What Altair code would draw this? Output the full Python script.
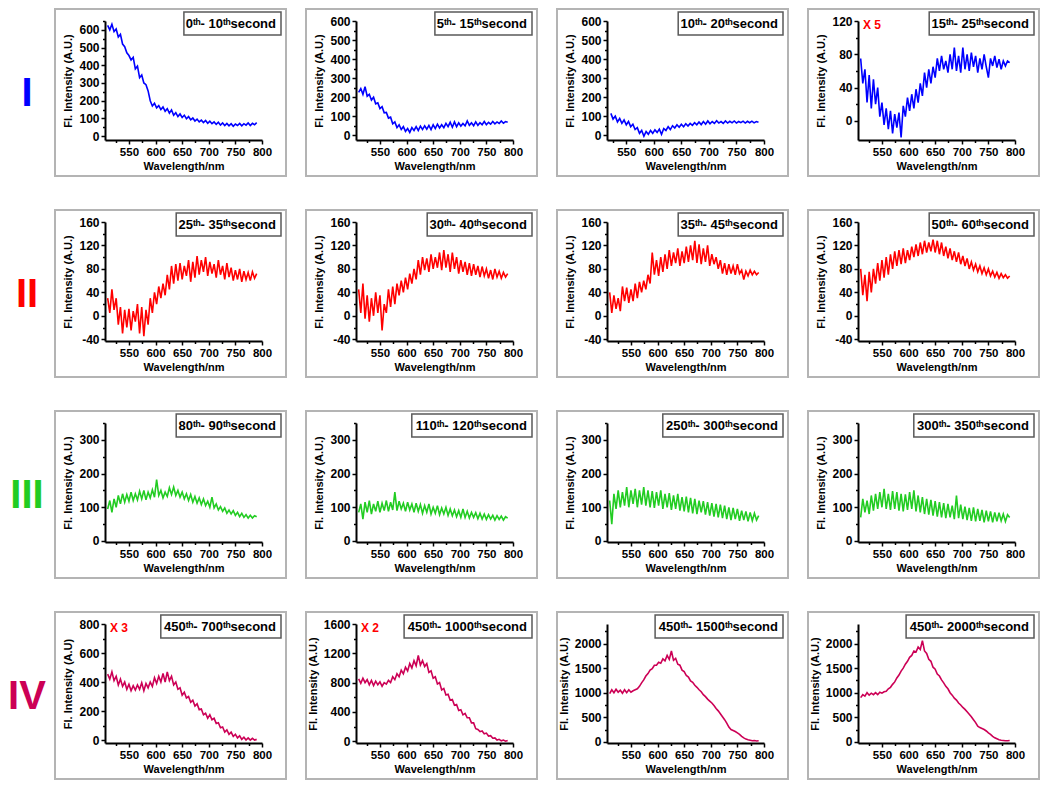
import altair as alt
import pandas as pd

# ---------------- data ----------------
wavelengths = list(range(510, 791, 4))  # 510 ... 790 nm

# Row I (blue)
s_0_10 = [625, 600, 632, 590, 605, 560, 575, 520, 505, 470,
          455, 430, 445, 380, 395, 330, 345, 300, 290, 255,
          200, 170, 185, 160, 172, 150, 165, 140, 155, 130,
          148, 118, 132, 110, 125, 105, 118, 98, 110, 92,
          102, 85, 96, 80, 90, 76, 88, 72, 84, 70,
          80, 66, 78, 62, 74, 60, 72, 58, 70, 55,
          68, 60, 72, 58, 70, 62, 74, 60, 72, 64,
          76]
s_5_15 = [225, 245, 215, 255, 205, 215, 185, 200, 165, 170,
          140, 150, 118, 120, 90, 95, 60, 70, 40, 55,
          30, 45, 20, 35, 15, 40, 25, 45, 25, 48,
          30, 50, 32, 52, 30, 55, 35, 58, 38, 55,
          40, 62, 45, 68, 42, 70, 45, 65, 48, 62,
          50, 75, 52, 65, 50, 70, 52, 66, 55, 72,
          55, 68, 58, 72, 60, 70, 62, 75, 63, 72,
          68]
s_10_20 = [115, 85, 100, 70, 88, 62, 80, 55, 72, 45,     # starts at 522 nm
           58, 30, 40, 10, 25, -5, 20, 5, 25, 10,
           28, 15, 32, 5, 35, 25, 45, 30, 50, 38,
           55, 42, 58, 45, 60, 48, 62, 52, 66, 55,
           70, 56, 72, 58, 75, 60, 72, 62, 76, 64,
           72, 62, 75, 64, 73, 65, 75, 64, 72, 66,
           74, 64, 73, 66, 74, 65, 72, 68]
s_15_25 = [75, 45, 62, 22, 55, 15, 50, 20, 40, 5,
           22, -5, 15, -10, 12, -15, 8, -8, 10, -20,
           18, 5, 28, 12, 32, 15, 38, 22, 45, 30,
           58, 40, 62, 45, 65, 52, 75, 60, 78, 62,
           72, 58, 80, 62, 88, 60, 78, 58, 88, 62,
           80, 60, 82, 65, 78, 58, 75, 62, 80, 65,
           52, 75, 66, 78, 64, 74, 62, 72, 66, 72,
           70]

# Row II (red)
s_25_35 = [30, 5, 45, 10, 30, -15, 15, -30, 10, -20,
           12, -25, 8, -10, 20, -30, 15, -35, 10, -15,
           30, 5, 40, 20, 50, 30, 55, 35, 70, 45,
           85, 55, 88, 60, 90, 62, 85, 68, 95, 58,
           92, 65, 102, 70, 95, 75, 100, 68, 92, 72,
           88, 65, 95, 70, 85, 62, 90, 66, 82, 60,
           78, 62, 80, 58, 76, 62, 74, 60, 75, 64,
           72]
s_30_40 = [45, 5, 55, -5, 35, -10, 30, 0, 40, 5,
           35, -25, 20, 5, 45, 15, 50, 20, 55, 35,
           60, 40, 65, 45, 72, 55, 80, 62, 95, 70,
           100, 78, 98, 75, 105, 80, 100, 82, 108, 78,
           112, 82, 105, 75, 108, 80, 100, 72, 95, 75,
           92, 70, 90, 68, 88, 70, 85, 66, 84, 68,
           80, 64, 78, 62, 80, 66, 76, 64, 74, 66,
           72]
s_35_45 = [40, 5, 35, 12, 30, 8, 50, 25, 48, 22,
           45, 25, 55, 30, 58, 40, 60, 45, 70, 55,
           108, 70, 95, 68, 100, 75, 105, 80, 112, 85,
           108, 90, 115, 85, 110, 90, 118, 92, 120, 95,
           128, 90, 122, 88, 115, 92, 120, 85, 105, 88,
           100, 80, 95, 72, 90, 70, 88, 72, 85, 70,
           88, 72, 78, 62, 76, 68, 78, 70, 76, 70,
           74]
s_50_60 = [80, 35, 70, 25, 75, 40, 80, 55, 90, 60,
           95, 65, 100, 70, 105, 80, 110, 85, 112, 88,
           115, 90, 112, 95, 118, 100, 122, 102, 125, 105,
           128, 108, 125, 110, 130, 108, 128, 105, 125, 102,
           118, 98, 115, 95, 110, 92, 108, 88, 102, 85,
           98, 80, 92, 78, 88, 75, 85, 72, 82, 70,
           80, 68, 76, 66, 74, 64, 72, 65, 70, 64,
           68]

# Row III (green)
s_80_90 = [95, 120, 85, 125, 100, 135, 110, 140, 115, 138,
           118, 145, 120, 140, 122, 148, 125, 150, 122, 145,
           128, 152, 130, 182, 135, 150, 128, 145, 132, 158,
           138, 160, 135, 150, 130, 145, 125, 140, 120, 138,
           115, 132, 112, 128, 108, 125, 105, 118, 100, 130,
           98, 110, 92, 102, 88, 98, 82, 92, 80, 90,
           76, 85, 72, 82, 70, 78, 68, 76, 68, 75,
           72]
s_110_120 = [85, 110, 65, 115, 85, 120, 80, 110, 88, 118,
             85, 112, 90, 120, 88, 115, 92, 145, 90, 118,
             95, 112, 88, 115, 92, 110, 85, 112, 88, 108,
             82, 105, 85, 110, 80, 100, 82, 105, 78, 98,
             80, 100, 76, 95, 75, 92, 72, 90, 70, 95,
             70, 88, 68, 85, 70, 84, 66, 82, 65, 80,
             64, 78, 65, 76, 62, 75, 64, 74, 62, 72,
             68]
s_250_300 = [120, 50, 140, 95, 150, 100, 145, 105, 160, 100,
             150, 110, 155, 100, 150, 108, 160, 105, 150, 100,
             148, 98, 145, 105, 150, 95, 140, 100, 142, 92,
             135, 95, 140, 90, 130, 88, 132, 85, 128, 82,
             125, 80, 120, 85, 118, 78, 115, 75, 112, 72,
             110, 70, 108, 68, 105, 65, 100, 62, 98, 65,
             95, 60, 90, 62, 88, 58, 85, 60, 82, 62,
             75]
s_300_350 = [70, 125, 85, 120, 80, 135, 90, 140, 95, 145,
             100, 155, 95, 140, 92, 148, 95, 145, 90, 140,
             88, 138, 92, 145, 95, 150, 88, 135, 85, 130,
             80, 125, 78, 122, 75, 118, 72, 115, 70, 112,
             68, 110, 70, 105, 65, 135, 68, 108, 65, 102,
             62, 98, 60, 100, 58, 95, 60, 92, 55, 90,
             58, 88, 55, 85, 58, 84, 60, 80, 58, 78,
             70]

# Row IV (crimson)
s_450_700 = [455, 420, 470, 410, 440, 380, 420, 370, 400, 350,
             385, 340, 375, 345, 380, 350, 395, 340, 390, 360,
             400, 370, 430, 390, 440, 400, 460, 400, 470, 410,
             440, 380, 400, 350, 360, 310, 330, 290, 300, 260,
             275, 235, 250, 210, 215, 175, 185, 150, 175, 140,
             150, 115, 120, 85, 90, 55, 70, 40, 55, 25,
             40, 15, 30, 5, 20, 0, 15, 0, 12, 0,
             5]
s_450_1000 = [850, 790, 860, 800, 840, 770, 830, 760, 820, 770,
              810, 750, 800, 780, 830, 800, 880, 840, 920, 880,
              970, 920, 1010, 960, 1060, 1000, 1100, 1030, 1170, 1040,
              1100, 1020, 1060, 940, 960, 860, 880, 780, 800, 700,
              720, 630, 640, 560, 570, 490, 500, 420, 430, 360,
              380, 320, 320, 250, 250, 170, 160, 130, 140, 100,
              110, 70, 75, 40, 45, 15, 25, 5, 15, 0,
              10]
s_450_1500 = [980, 1060, 1000, 1070, 1010, 1050, 990, 1060, 1000, 1060,
              1010, 1040, 1060, 1080, 1130, 1200, 1260, 1340, 1390, 1460,
              1490, 1560, 1560, 1620, 1600, 1690, 1650, 1760, 1680, 1850,
              1660, 1700, 1580, 1560, 1460, 1430, 1350, 1320, 1240, 1210,
              1150, 1110, 1060, 1020, 960, 920, 870, 830, 790, 740,
              680, 630, 570, 510, 450, 380, 300, 250, 230, 210,
              180, 150, 110, 80, 55, 40, 30, 20, 25, 15,
              20]
s_450_2000 = [900, 960, 930, 1000, 950, 990, 960, 1000, 960, 1010,
              990, 1020, 1030, 1080, 1110, 1170, 1220, 1300, 1360, 1440,
              1500, 1580, 1640, 1720, 1760, 1850, 1830, 1930, 1880, 2060,
              1850, 1800, 1680, 1640, 1520, 1480, 1380, 1340, 1260, 1200,
              1130, 1080, 1000, 950, 890, 850, 790, 750, 700, 660,
              610, 560, 510, 450, 390, 320, 290, 270, 250, 220,
              180, 150, 110, 80, 60, 40, 30, 25, 20, 20,
              25]

panel_series = [
    [s_0_10, s_5_15, s_10_20, s_15_25],
    [s_25_35, s_30_40, s_35_45, s_50_60],
    [s_80_90, s_110_120, s_250_300, s_300_350],
    [s_450_700, s_450_1000, s_450_1500, s_450_2000],
]
windows = [
    [(0, 10), (5, 15), (10, 20), (15, 25)],
    [(25, 35), (30, 40), (35, 45), (50, 60)],
    [(80, 90), (110, 120), (250, 300), (300, 350)],
    [(450, 700), (450, 1000), (450, 1500), (450, 2000)],
]
row_numerals = ["I", "II", "III", "IV"]
row_colors = ["#0000FF", "#FF0000", "#22CC22", "#CC0055"]
y_domains = [
    [[-22, 650], [-25, 600], [-25, 600], [-23, 120]],
    [[-43, 160]] * 4,
    [[-3, 350]] * 4,
    [[-20, 800], [-25, 1600], [-25, 2400], [-25, 2400]],
]
y_ticks = [
    [list(range(0, 601, 100))] * 3 + [[0, 40, 80, 120]],
    [[-40, 0, 40, 80, 120, 160]] * 4,
    [[0, 100, 200, 300]] * 4,
    [[0, 200, 400, 600, 800], [0, 400, 800, 1200, 1600],
     [0, 500, 1000, 1500, 2000], [0, 500, 1000, 1500, 2000]],
]
x_ticks = [550, 600, 650, 700, 750, 800]
x_minor = [525, 575, 625, 675, 725, 775]
multipliers = {(0, 3): "X 5", (3, 0): "X 3", (3, 1): "X 2"}
y_titles = {(3, 0): "Fl. Intensity (A.U)"}

# ---------------- layout / style ----------------
W, H = 157, 119
FONT = "Liberation Sans"
one = pd.DataFrame({"k": [0]})


def panel(r, c):
    vals = panel_series[r][c]
    wl = wavelengths[len(wavelengths) - len(vals):]
    df = pd.DataFrame({"wl": wl, "v": vals})
    xmin = 515 if (r, c) == (0, 2) else 505
    ydom = y_domains[r][c]
    yt = y_ticks[r][c]
    ystep = yt[1] - yt[0]
    y_minor = [v + ystep / 2 for v in yt if ydom[0] <= v + ystep / 2 <= ydom[1]]
    a, b = windows[r][c]
    label = f"{a}\u1d57\u02b0- {b}\u1d57\u02b0second"
    digits = len(str(a)) + len(str(b))
    boxw = 74 + 7.7 * digits

    xscale = alt.Scale(domain=[xmin, 800], nice=False, zero=False)
    yscale = alt.Scale(domain=ydom, nice=False, zero=False)

    frame = alt.Chart(one).mark_rect(
        fillOpacity=0, stroke="#b4b4b4", strokeWidth=2
    ).encode(x=alt.value(-50), x2=alt.value(W + 24),
             y=alt.value(-12), y2=alt.value(H + 36))

    line = alt.Chart(df).mark_line(
        color=row_colors[r], strokeWidth=1.6, clip=True
    ).encode(
        x=alt.X("wl:Q", scale=xscale,
                axis=alt.Axis(values=x_ticks, title="Wavelength/nm",
                              titlePadding=3, labelFontSize=11.5)),
        y=alt.Y("v:Q", scale=yscale,
                axis=alt.Axis(values=yt,
                              title=y_titles.get((r, c), "Fl. Intensity (A.U.)"),
                              titlePadding=5,
                              labelExpr="datum.value + ''")),
    )

    minor = alt.Chart(df).mark_line(opacity=0).encode(
        x=alt.X("wl:Q", scale=xscale,
                axis=alt.Axis(values=x_minor, labels=False, domain=False,
                              title=None, tickSize=2.5, orient="bottom")),
        y=alt.Y("v:Q", scale=yscale,
                axis=alt.Axis(values=y_minor, labels=False, domain=False,
                              title=None, tickSize=2.5, orient="left")),
    )

    lbox = alt.Chart(one).mark_rect(
        fill="white", stroke="#5a5a5a", strokeWidth=1.5
    ).encode(x=alt.value(W + 19 - boxw), x2=alt.value(W + 19),
             y=alt.value(-9), y2=alt.value(14))
    ltext = alt.Chart(one).mark_text(
        text=label, align="right", baseline="middle", font=FONT,
        fontSize=13, fontWeight="bold", color="black"
    ).encode(x=alt.value(W + 14), y=alt.value(3))

    layers = [frame, line, minor, lbox, ltext]
    if (r, c) in multipliers:
        layers.append(alt.Chart(one).mark_text(
            text=multipliers[(r, c)], align="left", baseline="middle",
            font=FONT, fontSize=12, fontWeight="bold", color="#FF0000"
        ).encode(x=alt.value(5), y=alt.value(4)))
    if c == 0:
        layers.append(alt.Chart(one).mark_text(
            text=row_numerals[r], align="center", baseline="middle",
            font=FONT, fontSize=40, fontWeight="bold", color=row_colors[r]
        ).encode(x=alt.value(-78), y=alt.value(H / 2 + 13)))
    return alt.layer(*layers).resolve_axis(
        x="independent", y="independent"
    ).properties(width=W, height=H)


panels = [panel(r, c) for r in range(4) for c in range(4)]

chart = alt.concat(
    *panels, columns=4, spacing={"row": 82, "column": 94}, bounds="flush"
).properties(
    padding=0
).configure(font=FONT).configure_view(stroke=None).configure_axis(
    grid=False,
    domainColor="black", domainWidth=2,
    tickColor="black", tickWidth=1.5, tickSize=4,
    labelFont=FONT, labelFontSize=12, labelFontWeight="bold",
    labelColor="black", labelPadding=2, labelOverlap=False, labelFlush=False,
    titleFont=FONT, titleFontSize=11, titleFontWeight="bold",
    titleColor="black",
)

chart.save("out.html", embed_options={"renderer": "svg", "actions": False})
